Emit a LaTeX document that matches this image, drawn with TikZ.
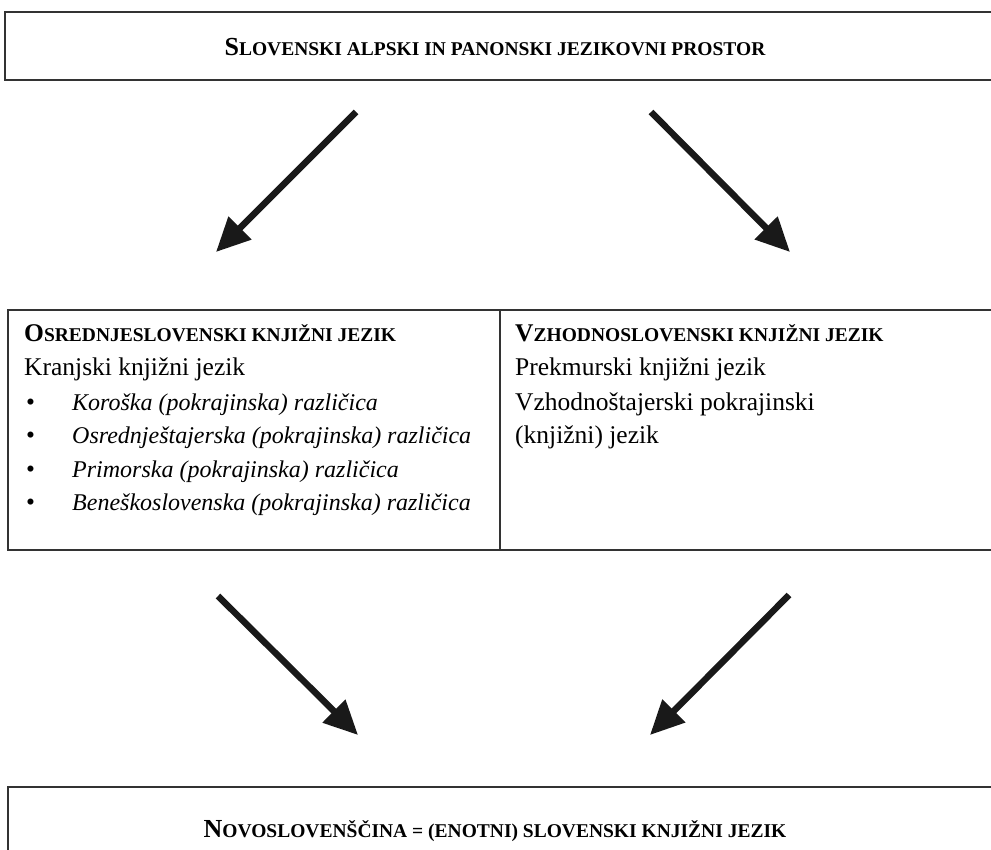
\documentclass[tikz,border=0pt]{standalone}
\usepackage{fontspec}
\setmainfont{Liberation Serif}
\usetikzlibrary{arrows.meta}

% fake small caps: first letter full size, the rest smaller
\newcommand{\hdcaps}[2]{{\bfseries #1{\fontsize{19.5}{22}\selectfont #2}}}

\begin{document}
\begin{tikzpicture}[x=1pt,y=-1pt,
  box/.style={draw=black!80,line width=1.2pt},
  txt/.style={anchor=base west,inner sep=0pt,font=\fontsize{25.5}{28}\selectfont},
  itxt/.style={txt,font=\fontsize{24}{28}\selectfont\itshape},
  ttl/.style={anchor=base,inner sep=0pt,font=\fontsize{26}{28}\selectfont},
  bigarrow/.style={-{Triangle[length=34pt,width=31pt]},line width=6.5pt,black!90}]

\clip (0,0) rectangle (991,850);

% boxes
\draw[box] (5,12) rectangle (1000,80);
\draw[box] (8,310) rectangle (1000,550);
\draw[box] (500,310) -- (500,550);
\draw[box] (8,860) |- (1000,787);

% nodes
\node (top) [ttl] at (495,56) {\hdcaps{S}{LOVENSKI ALPSKI IN PANONSKI JEZIKOVNI PROSTOR}};
\node (osr) [txt] at (24,342) {\hdcaps{O}{SREDNJESLOVENSKI KNJIŽNI JEZIK}};
\node (kra) [txt] at (24,376) {Kranjski knjižni jezik};
\node (b1) [txt] at (26,410) {•};
\node (b2) [txt] at (26,443) {•};
\node (b3) [txt] at (26,477) {•};
\node (b4) [txt] at (26,510) {•};
\node (kor) [itxt] at (72,410) {Koroška (pokrajinska) različica};
\node (ost) [itxt] at (72,443) {Osrednještajerska (pokrajinska) različica};
\node (pri) [itxt] at (72,477) {Primorska (pokrajinska) različica};
\node (ben) [itxt] at (72,510) {Beneškoslovenska (pokrajinska) različica};
\node (vzh) [txt] at (515,342) {\hdcaps{V}{ZHODNOSLOVENSKI KNJIŽNI JEZIK}};
\node (pre) [txt] at (515,376) {Prekmurski knjižni jezik};
\node (vst) [txt] at (515,410) {Vzhodnoštajerski pokrajinski};
\node (knj) [txt] at (515,443) {(knjižni) jezik};
\node (nov) [ttl] at (495,837) {\hdcaps{N}{OVOSLOVENŠČINA = (ENOTNI) SLOVENSKI KNJIŽNI JEZIK}};

% arrow ends
\coordinate (tla) at (356,112);
\coordinate (tlb) at (216,252);
\coordinate (tra) at (651,112);
\coordinate (trb) at (790,252);
\coordinate (bla) at (218,596);
\coordinate (blb) at (358,735);
\coordinate (bra) at (789,595);
\coordinate (brb) at (650,735);

% arrows
\draw[bigarrow] (tla) -- (tlb);
\draw[bigarrow] (tra) -- (trb);
\draw[bigarrow] (bla) -- (blb);
\draw[bigarrow] (bra) -- (brb);
\end{tikzpicture}
\end{document}
